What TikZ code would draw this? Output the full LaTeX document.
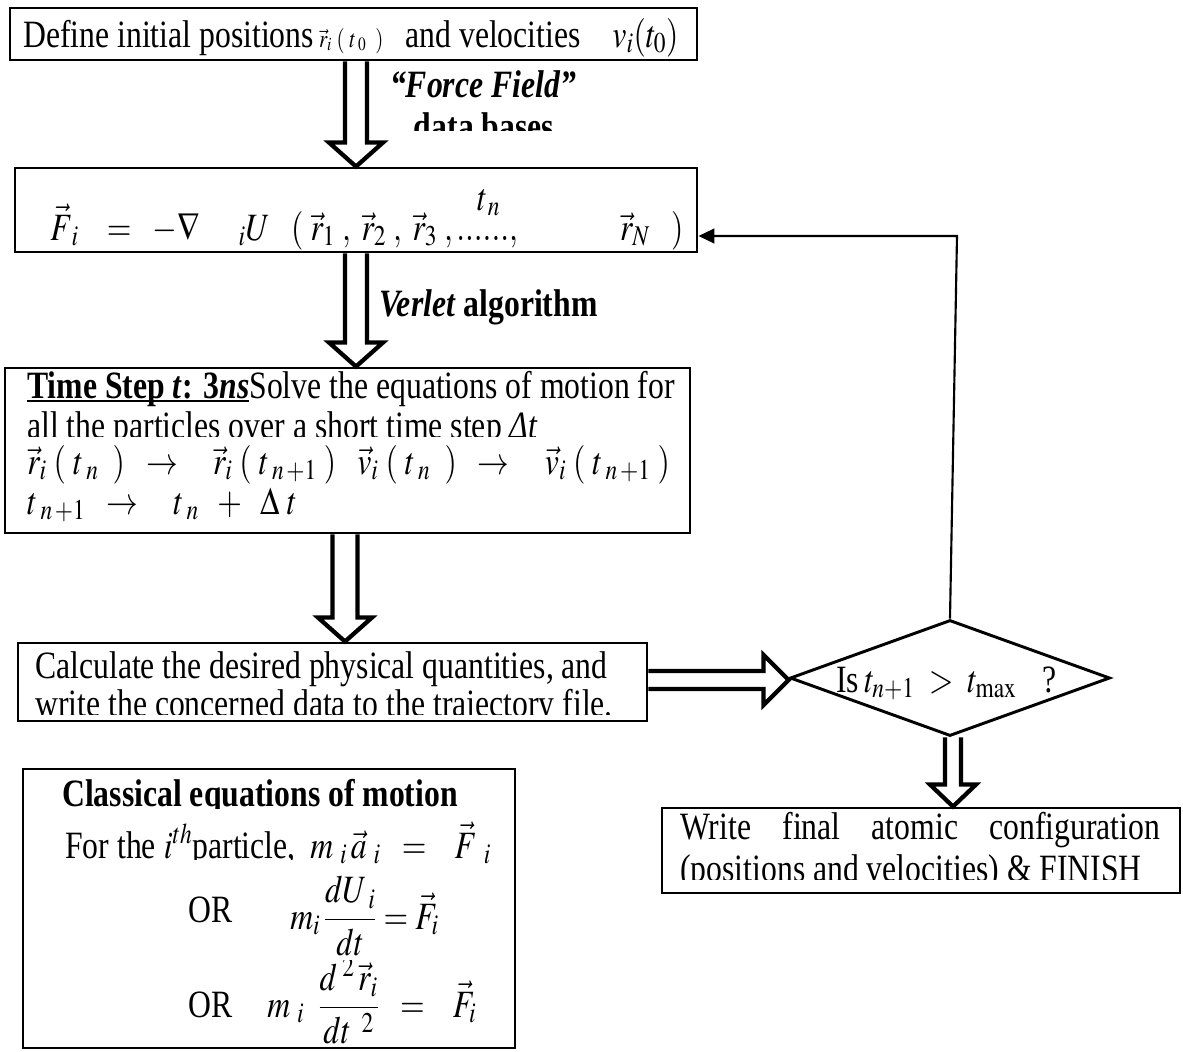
\documentclass[tikz,border=0pt]{standalone}
\usepackage{mathptmx}
\usepackage[no-math]{fontspec}
\setmainfont{Liberation Serif}
\usepackage{graphicx}
\newsavebox\ulbox
\newcommand\myul[1]{\sbox\ulbox{#1}\rlap{\rule[-3pt]{\wd\ulbox}{1.6pt}}\usebox\ulbox}
\usetikzlibrary{calc,shapes.geometric,arrows.meta}
\newcommand\fs{\fontsize{29}{34}\selectfont}
\newcommand\sq[1]{\scalebox{0.82}[1]{#1}}
\tikzset{
  box/.style={draw, line width=2.2pt, inner sep=0pt, rectangle},
  txt/.style={inner sep=0pt, anchor=base west, font=\fs},
  blk/.style={draw, line width=3.2pt, line join=miter, miter limit=4},
  fbline/.style={draw, line width=1.6pt, -{Triangle[length=12pt,width=11pt]}},
}
% vertical hollow block arrow: #1 x-coordinate, #2 from anchor, #3 to anchor, #4 half shaft, #5 half head, #6 head length
\newcommand\vblock[6]{%
  \coordinate (vs) at (#2 -| #1);
  \coordinate (ve) at (#3 -| #1);
  \draw[blk] ($(vs)+(-#4,0)$) -- ($(ve)+(-#4,-#6)$) -- ($(ve)+(-#5,-#6)$) -- (ve)
     -- ($(ve)+(#5,-#6)$) -- ($(ve)+(#4,-#6)$) -- ($(vs)+(#4,0)$);
}
\begin{document}
\begin{tikzpicture}[x=0.75pt,y=-0.75pt]
\useasboundingbox (0,0) rectangle (1183,1051);

% guide coordinates
\coordinate (ax1) at (356,0);
\coordinate (ax3) at (345,0);
\coordinate (ax5) at (953,0);
\coordinate (hy) at (0,680);
\coordinate (fb) at (957,236);

% ---------- boxes ----------
\node[box, minimum width=515.25pt, minimum height=39pt] (b1) at (353.5,34) {};
\node[box, minimum width=511.5pt, minimum height=63pt] (b2) at (356,210) {};
\node[box, minimum width=513.75pt, minimum height=123.75pt] (b3) at (347.5,450.5) {};
\node[box, minimum width=471.75pt, minimum height=58.5pt] (b4) at (332.5,682) {};
\node[draw, line width=2.2pt, shape=diamond, inner sep=0pt, minimum width=240pt, minimum height=87pt] (dia) at (950,678) {};
\node[box, minimum width=388.5pt, minimum height=63.75pt] (b5) at (921,850.5) {};
\node[box, minimum width=369pt, minimum height=209.25pt] (b6) at (269,908.5) {};

% ---------- box 1 ----------
\node[txt] (t1) at (23,47) {\sq{Define initial positions\,{\fontsize{19}{22}\selectfont$\vec r_i\;(\;t_{\;0}\;\;)$}\;\, and velocities\ \ \ \ $v_i(t_0)$}};

% ---------- arrow 1 and labels ----------
\vblock{ax1}{b1.south}{b2.north}{11}{27}{24}
\node[txt, anchor=base] (ff) at (483,97) {\sq{\textbf{\textit{“Force Field”}}}};
\begin{scope}
  \clip (380,100) rectangle (600,130);
  \node[txt, anchor=base] (db) at (484,139) {\sq{\textbf{data bases}}};
\end{scope}

% ---------- box 2 ----------
\node[txt] (tn) at (477,210) {\sq{$t_{\,n}$}};
\node[txt] (fe) at (50,240) {\sq{$\vec F_{\;i}\;\;\;=\;\;-\nabla\quad\;{}_iU\;\;\;(\;\vec r_1\;,\;\vec r_2\;,\;\vec r_3\;\mathrm{,......,}\qquad\quad\;\vec r_N\;\;\;)$}};

% ---------- arrow 2 ----------
\vblock{ax1}{b2.south}{b3.north}{11}{27}{24}
\node[txt] (vl) at (379,316) {\sq{\textbf{\textit{Verlet} algorithm}}};

% ---------- box 3 ----------
\node[txt] (l31) at (27,398) {\sq{\myul{\textbf{Time Step \textit{t}: 3\textit{ns}}}Solve the equations of motion for}};
\begin{scope}
  \clip (20,405) rectangle (680,436);
  \node[txt] (l32) at (27,438) {\sq{all the particles over a short time step \textit{Δt}}};
\end{scope}
\node[txt] (l33) at (27,474) {\sq{$\vec r_i\;(\;t_{\;n}\;\;)\;\;\rightarrow\;\;\;\;\vec r_i\;(\;t_{\;n\,+1}\;)\;\;\;\vec v_i\;(\;t_{\;n}\;\;)\;\;\rightarrow\;\;\;\;\vec v_i\;(\;t_{\;n\,+1}\;)$}};
\node[txt] (l34) at (27,514) {\sq{$t_{\;n\,+1}\;\;\rightarrow\;\;\;\;t_{\;n}\;\;+\;\;\Delta\;t$}};

% ---------- arrow 3 ----------
\vblock{ax3}{b3.south}{b4.north}{12.5}{27}{24}

% ---------- box 4 ----------
\node[txt] (l41) at (35,678) {\sq{Calculate the desired physical quantities, and}};
\begin{scope}
  \clip (30,685) rectangle (640,714);
  \node[txt] (l42) at (35,716) {\sq{write the concerned data to the trajectory file.}};
\end{scope}

% ---------- horizontal arrow ----------
\coordinate (hs) at (b4.east |- hy);
\coordinate (he) at (dia.west |- hy);
\draw[blk] ($(hs)+(0,-9)$) -- ($(he)+(-25,-9)$) -- ($(he)+(-25,-25)$) -- (he)
   -- ($(he)+(-25,25)$) -- ($(he)+(-25,9)$) -- ($(hs)+(0,9)$);

% ---------- diamond text ----------
\node[txt] (dq) at (836,692) {\sq{Is\,$t_{n+1}\;>\;t_{\max}$\;\;\;?}};

% ---------- feedback ----------
\draw[fbline] (dia.north) -- (fb) -- (fb -| b2.east);

% ---------- arrow down to box 5 ----------
\vblock{ax5}{dia.south}{b5.north}{8}{23}{22}

% ---------- box 5 ----------
\node[txt] (l51) at (680,840) {\sq{\parbox{439pt}{Write\hfill final\hfill atomic\hfill configuration}}};
\begin{scope}
  \clip (670,848) rectangle (1175,879);
  \node[txt] (l52) at (680,881) {\sq{(positions and velocities) \& FINISH}};
\end{scope}

% ---------- box 6 ----------
\begin{scope}
  \clip (40,775) rectangle (500,808);
  \node[txt] (ct) at (62,806) {\sq{\textbf{Classical equations of motion}}};
\end{scope}
\begin{scope}
  \clip (40,815) rectangle (308,859);
  \node[txt] (fl) at (65,858) {\sq{For the $i^{th}$particle,}};
\end{scope}
\node[txt] (fm) at (310,858) {\sq{$m\;_i\,\vec a\;_i\;\;=\;\;\;\vec F\;_i$}};
\node[txt] (or1) at (188,922) {\sq{OR}};
\node[txt] (fm1) at (290,929) {\sq{$m_i\,\displaystyle\frac{dU_{\;i}}{dt}=\vec F_i$}};
\node[txt] (or2) at (188,1017) {\sq{OR}};
\begin{scope}
  \clip (250,960) rectangle (512,1046);
  \node[txt] (fm2) at (267,1017) {\sq{$m\;_i\;\;\displaystyle\frac{d^{\;2}\,\vec r_i}{dt^{\;\;2}}\;\;=\;\;\;\vec F_i$}};
\end{scope}

\end{tikzpicture}
\end{document}
